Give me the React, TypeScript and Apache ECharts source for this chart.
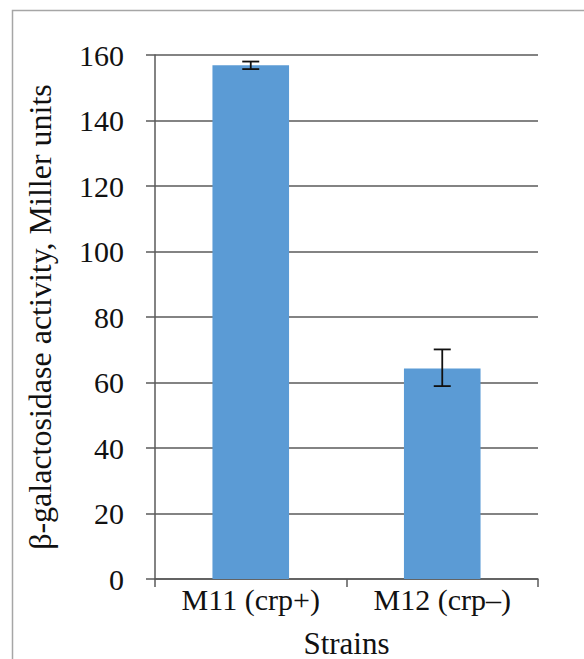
import React, { useEffect, useRef } from "react";
import * as echarts from "echarts";

const categories = ["M11 (crp+)", "M12 (crp–)"];
const values = [156.9, 64.3];
const errLow = [155.7, 58.9];
const errHigh = [158.0, 70.1];
const yTicks = [0, 20, 40, 60, 80, 100, 120, 140, 160];

export default function App() {
  const ref = useRef<HTMLDivElement>(null);
  useEffect(() => {
    if (!ref.current) return;
    const chart = echarts.init(ref.current, undefined, { renderer: "svg" });
    const font = "'Liberation Serif', 'Times New Roman', serif";
    const axisColor = "#5a5a5a";
    chart.setOption({
      animation: false,
      backgroundColor: "#ffffff",
      textStyle: { fontFamily: font },
      graphic: [
        {
          type: "rect",
          shape: { x: 12.5, y: 10.5, width: 700, height: 800 },
          style: { fill: "none", stroke: "#a6a6a6", lineWidth: 1.5 },
          silent: true,
        },
      ],
      grid: { left: 155, right: 46, top: 55, bottom: 80, containLabel: false, outerBoundsMode: "none" },
      xAxis: {
        type: "category",
        data: categories,
        boundaryGap: true,
        name: "Strains",
        nameLocation: "middle",
        nameGap: 49,
        nameTextStyle: { fontFamily: font, fontSize: 31, color: "#111" },
        axisLine: { show: true, lineStyle: { color: axisColor, width: 1.5 } },
        axisTick: { show: true, alignWithLabel: false, length: 8, lineStyle: { color: axisColor, width: 1.5 } },
        axisLabel: { fontFamily: font, fontSize: 30, color: "#111", margin: 5 },
      },
      yAxis: {
        type: "value",
        min: yTicks[0],
        max: yTicks[yTicks.length - 1],
        interval: 20,
        name: "β-galactosidase activity, Miller units",
        nameLocation: "middle",
        nameGap: 99,
        nameTextStyle: { fontFamily: font, fontSize: 32, color: "#111" },
        axisLine: { show: true, lineStyle: { color: axisColor, width: 1.5 } },
        axisTick: { show: true, inside: false, length: 9, lineStyle: { color: axisColor, width: 1.5 } },
        axisLabel: { fontFamily: font, fontSize: 30, color: "#111", margin: 31 },
        splitLine: { show: true, lineStyle: { color: axisColor, width: 1.5 } },
      },
      series: [
        {
          type: "bar",
          data: values,
          barWidth: "40%",
          itemStyle: { color: "#5b9bd5" },
        },
        {
          type: "custom",
          data: categories.map((_, i) => [i, errLow[i], errHigh[i]]),
          z: 10,
          renderItem: (params: any, api: any) => {
            const x = api.value(0);
            const lo = api.coord([x, api.value(1)]);
            const hi = api.coord([x, api.value(2)]);
            const cap = 8.5;
            const style = { stroke: "#111", lineWidth: 1.8, fill: "none" };
            return {
              type: "group",
              children: [
                { type: "line", shape: { x1: lo[0], y1: lo[1], x2: hi[0], y2: hi[1] }, style },
                { type: "line", shape: { x1: lo[0] - cap, y1: lo[1], x2: lo[0] + cap, y2: lo[1] }, style },
                { type: "line", shape: { x1: hi[0] - cap, y1: hi[1], x2: hi[0] + cap, y2: hi[1] }, style },
              ],
            };
          },
        },
      ],
    });
    return () => chart.dispose();
  }, []);
  return (
    <div
      ref={ref}
      style={{ position: "absolute", left: 0, top: 0, width: 584, height: 659 }}
    />
  );
}
